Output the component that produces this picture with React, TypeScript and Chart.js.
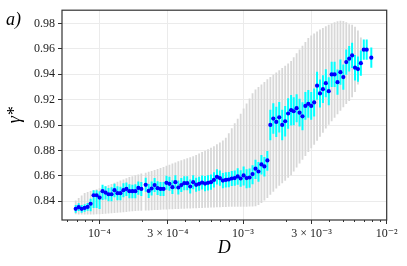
import React, { useEffect, useRef } from 'react';
import { Chart, registerables } from 'chart.js';

Chart.register(...registerables);

// D values (x positions)
const dValues = [
  6.851e-5, 7.186e-5, 7.538e-5, 7.907e-5, 8.294e-5, 8.7e-5, 9.126e-5, 9.573e-5, 1.0042e-4, 1.0533e-4,
  1.1049e-4, 1.159e-4, 1.2157e-4, 1.2752e-4, 1.3376e-4, 1.4031e-4, 1.4718e-4, 1.5439e-4, 1.6195e-4, 1.6987e-4,
  1.7819e-4, 1.8691e-4, 1.9606e-4, 2.1031e-4, 2.2055e-4, 2.3129e-4, 2.4255e-4, 2.5437e-4, 2.6676e-4, 2.7975e-4,
  2.9337e-4, 3.0766e-4, 3.2264e-4, 3.3835e-4, 3.5483e-4, 3.7211e-4, 3.9023e-4, 4.0924e-4, 4.2917e-4, 4.5007e-4,
  4.7199e-4, 4.9497e-4, 5.1908e-4, 5.4436e-4, 5.7087e-4, 5.9867e-4, 6.2782e-4, 6.584e-4, 6.9046e-4, 7.2409e-4,
  7.5935e-4, 7.9633e-4, 8.3511e-4, 8.7578e-4, 9.1843e-4, 9.6316e-4, 1.01006e-3, 1.0593e-3, 1.1109e-3, 1.165e-3,
  1.2217e-3, 1.2812e-3, 1.3436e-3, 1.409e-3, 1.4776e-3, 1.5496e-3, 1.6251e-3, 1.7042e-3, 1.7872e-3, 1.8742e-3,
  1.9655e-3, 2.0612e-3, 2.1616e-3, 2.2535e-3, 2.3614e-3, 2.4746e-3, 2.5931e-3, 2.7173e-3, 2.8475e-3, 2.9839e-3,
  3.1268e-3, 3.2766e-3, 3.4335e-3, 3.598e-3, 3.7703e-3, 3.9509e-3, 4.1401e-3, 4.3384e-3, 4.5462e-3, 4.764e-3,
  4.9922e-3, 5.2313e-3, 5.4819e-3, 5.7445e-3, 6.0196e-3, 6.308e-3, 6.6101e-3, 6.9267e-3, 7.2585e-3, 7.813e-3,
];

// gamma* (blue points)
const gammaValues = [
  0.834, 0.8353, 0.834, 0.8347, 0.8355, 0.838, 0.8447, 0.8447, 0.8429, 0.8479,
  0.8468, 0.8455, 0.8455, 0.8487, 0.8463, 0.8463, 0.8487, 0.8497, 0.8479, 0.8479,
  0.8479, 0.8505, 0.8497, 0.8529, 0.8481, 0.85, 0.8527, 0.8503, 0.8497, 0.8497,
  0.8545, 0.8537, 0.8511, 0.855, 0.8508, 0.8527, 0.8542, 0.8542, 0.8516, 0.855,
  0.8529, 0.8537, 0.8547, 0.8539, 0.8545, 0.855, 0.8568, 0.8592, 0.8582, 0.8563,
  0.8568, 0.8571, 0.8579, 0.8582, 0.8595, 0.8579, 0.8603, 0.8582, 0.8587, 0.8614,
  0.8656, 0.8634, 0.869, 0.8674, 0.8721, 0.9001, 0.9051, 0.9025, 0.9061, 0.9001,
  0.903, 0.9091, 0.9117, 0.9109, 0.9133, 0.9098, 0.9069, 0.9151, 0.9167, 0.9151,
  0.9178, 0.931, 0.9249, 0.9283, 0.933, 0.9267, 0.9399, 0.9399, 0.9338, 0.9417,
  0.9378, 0.9496, 0.9523, 0.9549, 0.9452, 0.9441, 0.9488, 0.9594, 0.9594, 0.9531,
];

// cyan error bar extents (above / below the point)
const cyanErrUp = [
  0.003, 0.003, 0.003, 0.003, 0.003, 0.004, 0.004, 0.004, 0.005, 0.005,
  0.005, 0.005, 0.0055, 0.005, 0.0055, 0.005, 0.0055, 0.005, 0.0055, 0.005,
  0.0055, 0.005, 0.0055, 0.0055, 0.0055, 0.0055, 0.0055, 0.0055, 0.0055, 0.0055,
  0.0055, 0.0055, 0.0055, 0.0055, 0.0055, 0.0055, 0.0055, 0.0055, 0.0055, 0.0055,
  0.0055, 0.0055, 0.0055, 0.006, 0.006, 0.006, 0.006, 0.006, 0.006, 0.006,
  0.006, 0.006, 0.006, 0.006, 0.0065, 0.0065, 0.007, 0.007, 0.007, 0.007,
  0.007, 0.0075, 0.0075, 0.0075, 0.0075, 0.012, 0.012, 0.012, 0.012, 0.012,
  0.012, 0.012, 0.012, 0.011, 0.011, 0.011, 0.011, 0.011, 0.011, 0.011,
  0.011, 0.011, 0.011, 0.011, 0.011, 0.011, 0.01, 0.01, 0.01, 0.01,
  0.01, 0.01, 0.01, 0.01, 0.01, 0.01, 0.01, 0.008, 0.008, 0.008,
];
const cyanErrDown = [
  0.003, 0.003, 0.003, 0.003, 0.003, 0.006, 0.01, 0.01, 0.009, 0.007,
  0.0055, 0.0055, 0.0055, 0.0055, 0.0055, 0.0055, 0.0055, 0.0055, 0.0055, 0.0055,
  0.0055, 0.0055, 0.0055, 0.0055, 0.0055, 0.0055, 0.0055, 0.0055, 0.0055, 0.0055,
  0.0055, 0.0055, 0.0055, 0.0055, 0.0055, 0.0055, 0.0055, 0.0055, 0.0055, 0.0055,
  0.0055, 0.0055, 0.0055, 0.006, 0.006, 0.006, 0.006, 0.006, 0.006, 0.006,
  0.006, 0.006, 0.006, 0.006, 0.0065, 0.0065, 0.008, 0.008, 0.008, 0.008,
  0.008, 0.008, 0.008, 0.008, 0.008, 0.012, 0.012, 0.012, 0.012, 0.012,
  0.012, 0.012, 0.012, 0.011, 0.011, 0.011, 0.011, 0.011, 0.011, 0.011,
  0.011, 0.011, 0.011, 0.011, 0.011, 0.011, 0.01, 0.01, 0.01, 0.01,
  0.01, 0.01, 0.01, 0.01, 0.01, 0.01, 0.01, 0.008, 0.008, 0.008,
];

// grey range bars
const greyLow = [
  0.8298, 0.8296, 0.8295, 0.8295, 0.8295, 0.8295, 0.8296, 0.8297, 0.8298, 0.83,
  0.8302, 0.8304, 0.8306, 0.8308, 0.831, 0.8312, 0.8314, 0.8316, 0.8318, 0.832,
  0.8322, 0.8324, 0.8325, 0.8326, 0.8327, 0.8328, 0.833, 0.8331, 0.8332, 0.8334,
  0.8335, 0.8336, 0.8337, 0.8338, 0.8339, 0.834, 0.8341, 0.8342, 0.8343, 0.8344,
  0.8345, 0.8346, 0.8347, 0.8348, 0.8349, 0.835, 0.8351, 0.8352, 0.8353, 0.8354,
  0.8355, 0.8356, 0.8356, 0.8357, 0.8357, 0.8357, 0.8357, 0.8357, 0.8358, 0.8358,
  0.836, 0.837, 0.8385, 0.8405, 0.8425, 0.845, 0.8475, 0.85, 0.8522, 0.8542,
  0.8562, 0.8585, 0.8605, 0.8635, 0.8665, 0.8697, 0.8727, 0.8757, 0.8787, 0.8817,
  0.8845, 0.8877, 0.8908, 0.894, 0.8972, 0.9002, 0.903, 0.9058, 0.9085, 0.9112,
  0.914, 0.9165, 0.919, 0.922, 0.926, 0.932, 0.944, 0.955, null, null,
];
const greyHigh = [
  0.8405, 0.8425, 0.8445, 0.8465, 0.8472, 0.848, 0.8487, 0.8494, 0.8502, 0.851,
  0.8518, 0.8527, 0.8536, 0.8545, 0.8554, 0.8563, 0.8572, 0.8581, 0.859, 0.8597,
  0.8604, 0.8611, 0.8618, 0.8625, 0.8632, 0.8639, 0.8646, 0.8653, 0.8661, 0.867,
  0.8679, 0.8688, 0.8697, 0.8706, 0.8714, 0.8722, 0.873, 0.8738, 0.8746, 0.8755,
  0.8765, 0.8776, 0.8787, 0.8798, 0.881, 0.8822, 0.8834, 0.8848, 0.8862, 0.8878,
  0.89, 0.8935, 0.8975, 0.9015, 0.905, 0.909, 0.913, 0.917, 0.921, 0.925,
  0.928, 0.93, 0.932, 0.934, 0.936, 0.9378, 0.9396, 0.9414, 0.9432, 0.945,
  0.9468, 0.9486, 0.9505, 0.9535, 0.9565, 0.9595, 0.9625, 0.9655, 0.9685, 0.9705,
  0.9722, 0.9738, 0.9752, 0.9765, 0.9778, 0.979, 0.98, 0.981, 0.9818, 0.9822,
  0.982, 0.981, 0.9795, 0.979, 0.9775, 0.9745, 0.969, 0.962, null, null,
];

const yTickValues = [0.84, 0.86, 0.88, 0.9, 0.92, 0.94, 0.96, 0.98];
const xMajorTicks = [1e-4, 3e-4, 1e-3, 3e-3, 1e-2];
const xMajorLabels = ['10⁻⁴', '3 × 10⁻⁴', '10⁻³', '3 × 10⁻³', '10⁻²'];
const xMinorTicks = [
  6e-5, 7e-5, 8e-5, 9e-5, 2e-4, 4e-4, 5e-4, 6e-4, 7e-4, 8e-4, 9e-4,
  2e-3, 4e-3, 5e-3, 6e-3, 7e-3, 8e-3, 9e-3,
];

const FONT = '"Liberation Serif", "DejaVu Serif", serif';
const AXIS_COLOR = '#333333';
const GRID_COLOR = '#ebebeb';

const majorIndex = (v: number) =>
  xMajorTicks.findIndex((m) => Math.abs(v - m) / m < 1e-6);

export default function App() {
  const canvasRef = useRef<HTMLCanvasElement | null>(null);

  useEffect(() => {
    const canvas = canvasRef.current;
    if (!canvas) return;

    const points = dValues.map((d, i) => ({ x: d, y: gammaValues[i] }));
    const cyanBars = dValues.map((d, i) => ({
      x: d,
      y: [gammaValues[i] - cyanErrDown[i], gammaValues[i] + cyanErrUp[i]],
    }));
    const greyBars = dValues
      .map((d, i) =>
        greyLow[i] == null || greyHigh[i] == null
          ? null
          : { x: d, y: [greyLow[i] as number, greyHigh[i] as number] }
      )
      .filter((p) => p !== null);

    const framePlugin = {
      id: 'frameAndLabel',
      afterDatasetsDraw(chart: any) {
        const { ctx, chartArea } = chart;
        ctx.save();
        ctx.strokeStyle = AXIS_COLOR;
        ctx.lineWidth = 1.2;
        ctx.strokeRect(
          chartArea.left,
          chartArea.top,
          chartArea.right - chartArea.left,
          chartArea.bottom - chartArea.top
        );
        ctx.restore();
      },
      afterDraw(chart: any) {
        const { ctx } = chart;
        ctx.save();
        ctx.fillStyle = '#000';
        ctx.font = `italic 18px ${FONT}`;
        ctx.textBaseline = 'alphabetic';
        ctx.textAlign = 'left';
        ctx.fillText('a)', 6, 25);
        ctx.restore();
      },
    };

    const chart = new Chart(canvas, {
      type: 'bar',
      data: {
        datasets: [
          {
            type: 'scatter',
            data: points,
            backgroundColor: '#0000ff',
            borderColor: '#0000ff',
            borderWidth: 0,
            pointRadius: 2.1,
            order: 0,
          } as any,
          {
            type: 'bar',
            data: cyanBars as any,
            backgroundColor: '#00ffff',
            borderWidth: 0,
            barThickness: 2,
            inflateAmount: 0,
            grouped: false,
            order: 1,
          } as any,
          {
            type: 'bar',
            data: greyBars as any,
            backgroundColor: 'rgb(216,216,216)',
            borderWidth: 0,
            barThickness: 1.8,
            inflateAmount: 0,
            grouped: false,
            order: 2,
          } as any,
        ],
      },
      options: {
        animation: false,
        responsive: false,
        maintainAspectRatio: false,
        events: [],
        layout: { padding: { top: 10, right: 20.3, left: 0, bottom: 0 } },
        plugins: {
          legend: { display: false },
          tooltip: { enabled: false },
          title: { display: false },
        },
        scales: {
          x: {
            type: 'logarithmic',
            min: 5.5e-5,
            max: 1e-2,
            offset: false,
            afterFit: (scale: any) => {
              scale.height = 46;
            },
            afterBuildTicks: (scale: any) => {
              scale.ticks = [...xMinorTicks, ...xMajorTicks]
                .sort((a, b) => a - b)
                .map((v) => ({ value: v, major: false }));
            },
            border: { display: false },
            grid: {
              offset: false,
              color: (ctx: any) =>
                ctx.tick && majorIndex(ctx.tick.value) >= 0 ? GRID_COLOR : 'rgba(0,0,0,0)',
              tickColor: AXIS_COLOR,
              tickLength: 4,
              tickBorderDash: (ctx: any) =>
                ctx.tick && majorIndex(ctx.tick.value) >= 0 ? [] : [2, 10],
            },
            ticks: {
              autoSkip: false,
              maxRotation: 0,
              minRotation: 0,
              padding: 3,
              color: '#222',
              font: { family: FONT, size: 12 },
              callback: (v: any) => {
                const k = majorIndex(Number(v));
                return k >= 0 ? xMajorLabels[k] : '';
              },
            },
            title: {
              display: true,
              text: 'D',
              color: '#000',
              font: { family: FONT, size: 18, style: 'italic' },
              padding: { top: 0, bottom: 7 },
            },
          } as any,
          y: {
            type: 'linear',
            min: 0.8252,
            max: 0.9905,
            beginAtZero: false,
            afterFit: (scale: any) => {
              scale.width = 62;
            },
            afterBuildTicks: (scale: any) => {
              scale.ticks = yTickValues.map((v) => ({ value: v }));
            },
            border: { display: false },
            grid: {
              color: GRID_COLOR,
              tickColor: AXIS_COLOR,
              tickLength: 4,
            },
            ticks: {
              padding: 3,
              color: '#222',
              font: { family: FONT, size: 12 },
              callback: (v: any) => Number(v).toFixed(2),
            },
            title: {
              display: true,
              text: 'γ*',
              color: '#000',
              font: { family: FONT, size: 18, style: 'italic' },
              padding: { top: 4, bottom: 0 },
            },
          } as any,
        },
      },
      plugins: [framePlugin],
    });

    return () => chart.destroy();
  }, []);

  return (
    <div style={{ position: 'fixed', left: 0, top: 0, width: 407, height: 266, background: '#fff' }}>
      <canvas ref={canvasRef} width={407} height={266} style={{ width: 407, height: 266 }} />
    </div>
  );
}
